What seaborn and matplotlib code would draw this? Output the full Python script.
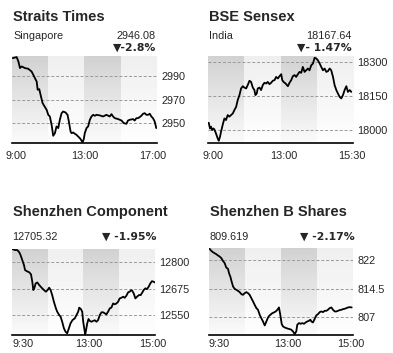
"""
Four intraday index panels: Straits Times, BSE Sensex, Shenzhen Component, Shenzhen B.
"""

import numpy as np
import pandas as pd
import matplotlib
matplotlib.use('Agg')
import matplotlib.pyplot as plt
import seaborn as sns

sns.set_style('white')
plt.rcParams['font.family'] = ['Liberation Sans Narrow', 'Liberation Sans', 'DejaVu Sans']

# ── data (x = % of trading session elapsed) ─────────────────────────────
st_x = [0.5, 3.2, 4.4, 5.5, 6.7, 8.9, 11.2, 13.5, 14.7, 15.8, 17.0, 17.7, 18.8, 19.7,
        21.1, 22.2, 23.9, 25.0, 26.1, 27.3, 28.0, 28.4, 29.6, 30.7, 31.9, 33.0, 34.2,
        35.3, 36.9, 38.3, 39.2, 40.4, 41.1, 42.2, 43.3, 44.5, 45.6, 46.8, 47.9, 48.6,
        49.5, 50.2, 51.4, 52.5, 53.7, 54.8, 56.0, 57.1, 58.3, 60.6, 62.8, 65.1, 67.4,
        68.6, 69.7, 70.9, 73.2, 75.5, 77.1, 78.9, 80.0, 81.2, 83.5, 84.6, 85.8, 86.9,
        88.1, 89.2, 90.4, 91.5, 92.7, 93.8, 95.0, 96.1, 97.2, 98.4, 99.5]
st_y = [3005.2, 3006.1, 3002.4, 2996.8, 2998.2, 2996.8, 2996.2, 2993.9, 2991.1, 2988.3,
        2985.5, 2978.5, 2979.0, 2974.2, 2967.2, 2964.9, 2961.5, 2957.3, 2955.9, 2948.9,
        2943.2, 2939.6, 2941.8, 2947.5, 2946.1, 2953.1, 2958.7, 2960.1, 2959.3, 2957.3,
        2951.7, 2943.2, 2941.8, 2942.4, 2941.3, 2940.4, 2939.0, 2937.6, 2935.6, 2933.9,
        2936.8, 2941.8, 2946.1, 2947.5, 2953.1, 2955.9, 2957.3, 2956.5, 2957.3, 2956.8,
        2955.9, 2957.3, 2955.9, 2957.9, 2955.9, 2954.5, 2953.7, 2952.5, 2950.3, 2949.7,
        2952.5, 2953.1, 2953.7, 2952.5, 2954.5, 2954.5, 2955.4, 2956.5, 2958.2, 2958.7,
        2957.3, 2957.3, 2958.2, 2955.9, 2954.5, 2951.7, 2946.1]

bse_x = [0.5, 1.4, 2.1, 2.8, 3.7, 4.4, 5.5, 6.7, 7.4, 8.3, 9.0, 10.1, 11.3, 12.4, 13.6,
         14.7, 15.9, 17.1, 18.2, 19.4, 20.5, 21.7, 22.8, 24.0, 25.1, 26.3, 27.4, 28.6,
         29.7, 30.9, 32.0, 32.7, 33.6, 34.3, 35.5, 36.6, 37.8, 38.9, 40.1, 41.2, 42.4,
         43.5, 44.7, 45.9, 47.0, 48.2, 49.3, 50.5, 51.2, 52.1, 53.5, 55.1, 56.2, 57.4,
         58.5, 59.7, 60.8, 62.0, 63.1, 64.3, 65.4, 66.6, 67.7, 68.9, 70.0, 71.2, 72.4,
         73.5, 74.7, 75.8, 77.0, 78.1, 79.3, 80.4, 81.6, 82.7, 83.9, 85.0, 86.2, 87.3,
         88.5, 89.6, 90.8, 91.9, 93.1, 94.2, 95.4, 96.5, 97.7, 98.8]
bse_y = [18032, 18007, 18015, 18000, 18007, 18003, 17985, 17963, 17953, 17971, 17993,
         18022, 18051, 18044, 18066, 18059, 18066, 18073, 18088, 18102, 18132, 18154,
         18183, 18193, 18187, 18183, 18198, 18217, 18212, 18187, 18176, 18154, 18161,
         18183, 18187, 18176, 18198, 18208, 18205, 18212, 18202, 18208, 18217, 18220,
         18234, 18227, 18237, 18246, 18220, 18212, 18205, 18193, 18208, 18220, 18237,
         18242, 18234, 18246, 18256, 18252, 18278, 18256, 18263, 18271, 18263, 18285,
         18293, 18318, 18315, 18307, 18293, 18278, 18263, 18271, 18256, 18259, 18271,
         18263, 18234, 18198, 18176, 18161, 18146, 18139, 18154, 18176, 18193, 18168,
         18176, 18168]

szc_x = [0.5, 2.1, 3.7, 5.1, 6.0, 7.2, 8.4, 9.1, 10.2, 12.1, 13.3, 14.2, 14.9, 15.6,
         16.5, 17.7, 19.1, 20.7, 22.3, 23.7, 24.9, 26.0, 27.0, 28.1, 29.3, 30.7, 31.6,
         33.0, 34.0, 35.1, 36.3, 37.4, 38.6, 39.8, 40.9, 42.3, 43.9, 45.1, 46.3, 47.0,
         48.1, 49.1, 49.8, 50.5, 51.2, 51.6, 52.6, 53.5, 54.4, 55.6, 56.7, 57.9, 59.1,
         60.2, 61.4, 62.6, 63.7, 64.9, 66.0, 67.2, 68.4, 69.5, 70.7, 71.9, 73.0, 74.2,
         75.3, 76.5, 77.7, 78.8, 80.0, 81.2, 82.3, 83.5, 84.2, 85.1, 86.3, 87.4, 88.8,
         90.0, 91.2, 92.1, 93.3, 94.4, 95.6, 96.7, 97.9, 99.1, 99.8]
szc_y = [12863, 12859, 12859, 12848, 12835, 12811, 12787, 12764, 12759, 12753, 12743,
         12708, 12669, 12677, 12700, 12705, 12692, 12680, 12669, 12661, 12669, 12680,
         12669, 12645, 12613, 12582, 12566, 12550, 12542, 12518, 12487, 12471, 12463,
         12487, 12510, 12526, 12534, 12550, 12566, 12585, 12579, 12566, 12518, 12487,
         12458, 12471, 12510, 12531, 12522, 12518, 12522, 12525, 12518, 12526, 12550,
         12563, 12563, 12558, 12553, 12566, 12582, 12585, 12605, 12601, 12605, 12613,
         12629, 12632, 12637, 12632, 12642, 12658, 12661, 12669, 12664, 12653, 12629,
         12637, 12645, 12645, 12658, 12669, 12677, 12673, 12685, 12700, 12711, 12708,
         12705]

szb_x = [0.5, 1.6, 2.8, 3.9, 5.1, 6.3, 7.4, 8.6, 9.7, 10.9, 12.0, 13.2, 13.9, 14.8, 15.7,
         16.7, 17.8, 19.0, 20.1, 21.3, 22.5, 23.6, 24.8, 25.9, 27.1, 28.2, 29.4, 30.6,
         31.7, 32.9, 34.0, 35.2, 36.3, 37.5, 38.7, 39.4, 40.3, 41.4, 42.6, 44.0, 45.1,
         46.3, 47.5, 48.6, 49.5, 50.5, 51.4, 52.5, 53.7, 54.9, 56.0, 57.2, 58.3, 59.5,
         60.6, 61.3, 62.5, 63.7, 64.8, 66.0, 67.1, 68.3, 69.4, 70.4, 71.1, 72.2, 73.4,
         74.5, 75.7, 76.9, 78.0, 79.2, 80.3, 81.5, 82.6, 83.8, 85.0, 86.1, 87.3, 88.4,
         89.6, 90.7, 91.9, 93.1, 94.2, 95.4, 96.5, 97.7, 99.1]
szb_y = [824.97, 824.44, 824.09, 823.83, 823.57, 823.22, 822.96, 822.52, 821.83, 821.22,
         820.08, 819.73, 818.60, 817.73, 816.42, 815.11, 814.50, 814.24, 813.98, 813.63,
         813.10, 812.93, 813.37, 813.63, 813.37, 812.93, 812.06, 811.19, 810.31, 809.44,
         809.01, 807.70, 806.83, 805.95, 804.91, 805.52, 806.39, 807.26, 807.70, 808.13,
         808.31, 808.57, 809.01, 809.62, 807.70, 805.26, 804.65, 804.38, 804.21, 804.04,
         803.95, 803.77, 803.34, 802.64, 803.34, 805.08, 805.52, 805.34, 805.52, 805.34,
         805.69, 805.95, 806.13, 806.39, 805.95, 805.69, 806.65, 807.52, 807.87, 808.40,
         808.57, 808.40, 808.74, 808.74, 809.01, 809.44, 809.62, 809.01, 808.57, 808.57,
         808.74, 808.92, 809.01, 809.18, 809.27, 809.44, 809.62, 809.70, 809.62]

TITLES = ['Straits Times', 'BSE Sensex', 'Shenzhen Component', 'Shenzhen B Shares']
SUBTITLES = ['Singapore', 'India', '', '']
LAST = ['2946.08', '18167.64', '12705.32', '809.619']
CHANGE = ['\u25bc-2.8%', '\u25bc- 1.47%', '\u25bc -1.95%', '\u25bc -2.17%']
YTICKS = [[2950, 2970, 2990], [18000, 18150, 18300], [12550, 12675, 12800], [807, 814.5, 822]]
YLIMS = [(2933.5, 3007), (17943, 18326), (12455, 12864), (802.4, 825.2)]
XTICK_LABELS = [['9:00', '13:00', '17:00'], ['9:00', '13:00', '15:30'],
                ['9:30', '13:00', '15:00'], ['9:30', '13:00', '15:00']]
XTICK_POS = [[2.8, 50.3, 97], [3.4, 52.6, 99], [7.5, 53.6, 98.6], [7, 54.6, 98.6]]

series = [(st_x, st_y), (bse_x, bse_y), (szc_x, szc_y), (szb_x, szb_y)]

# ── figure ───────────────────────────────────────────────────────────────
W, H = 393, 353
fig = plt.figure(figsize=(W / 100, H / 100), dpi=100)
fig.patch.set_facecolor('white')

# axes boxes in pixels: left, top, right, bottom
boxes = [(12, 56, 157, 143), (208, 56, 353, 143), (12, 249, 155, 335), (209, 248, 353, 335)]

# background: four alternating bands, fading to white at the bottom
rows = np.linspace(0, 1, 120)[:, None]
dark = 0.82 + 0.16 * rows
light = 0.935 + 0.06 * rows
band_img = np.repeat(np.hstack([dark, light, dark, light]), 100, axis=1)

for i, (l, t, r, b) in enumerate(boxes):
    ax = fig.add_axes([l / W, 1 - b / H, (r - l) / W, (b - t) / H])
    ymin, ymax = YLIMS[i]
    ax.imshow(band_img, cmap='gray', vmin=0, vmax=1, extent=(0, 100, ymin, ymax),
              aspect='auto', interpolation='nearest', zorder=0)
    for yv in YTICKS[i]:
        ax.axhline(yv, color='#9a9a9a', lw=0.7, ls=(0, (3, 2)), zorder=1)
    df = pd.DataFrame({'x': series[i][0], 'y': series[i][1]})
    sns.lineplot(data=df, x='x', y='y', ax=ax, color='black', lw=1.3, zorder=3,
                 estimator=None, sort=False)
    ax.set_xlim(0, 100)
    ax.set_ylim(ymin, ymax)
    ax.set_xlabel('')
    ax.set_ylabel('')
    for s in ['top', 'left', 'right']:
        ax.spines[s].set_visible(False)
    ax.spines['bottom'].set_color('black')
    ax.spines['bottom'].set_linewidth(1.2)
    ax.spines['bottom'].set_zorder(4)
    ax.yaxis.tick_right()
    ax.set_yticks(YTICKS[i])
    ax.set_yticklabels([f'{v:g}' for v in YTICKS[i]])
    ax.set_xticks(XTICK_POS[i])
    ax.set_xticklabels(XTICK_LABELS[i])
    xpad = 5.5 if i < 2 else 3
    ax.tick_params(axis='y', length=0, pad=3, labelsize=7.8)
    ax.tick_params(axis='x', length=0, pad=xpad, labelsize=7.8)

    # header texts
    if i < 2:
        ax_t, sub_y, last_y, chg_y = 17, 36, 36, 48
    else:
        ax_t, sub_y, last_y, chg_y = 212, 237, 237, 237
    fig.text((l + 1) / W, 1 - ax_t / H, TITLES[i], fontsize=10.5, fontweight='bold',
             ha='left', va='center')
    if SUBTITLES[i]:
        fig.text((l + 1) / W, 1 - sub_y / H, SUBTITLES[i], fontsize=7.8,
                 ha='left', va='center')
    if i < 2:
        fig.text((r - 1) / W, 1 - last_y / H, LAST[i], fontsize=7.8, ha='right', va='center')
    else:
        fig.text(l / W, 1 - last_y / H, LAST[i], fontsize=7.8, ha='left', va='center')
    fig.text((r + 2 if i >= 2 else r - 1) / W, 1 - chg_y / H, CHANGE[i], fontsize=7.8,
             fontweight='bold', ha='right', va='center',
             family=['Liberation Sans Narrow', 'DejaVu Sans'])

fig.savefig('out.png', dpi=100, facecolor='white')
plt.close(fig)
